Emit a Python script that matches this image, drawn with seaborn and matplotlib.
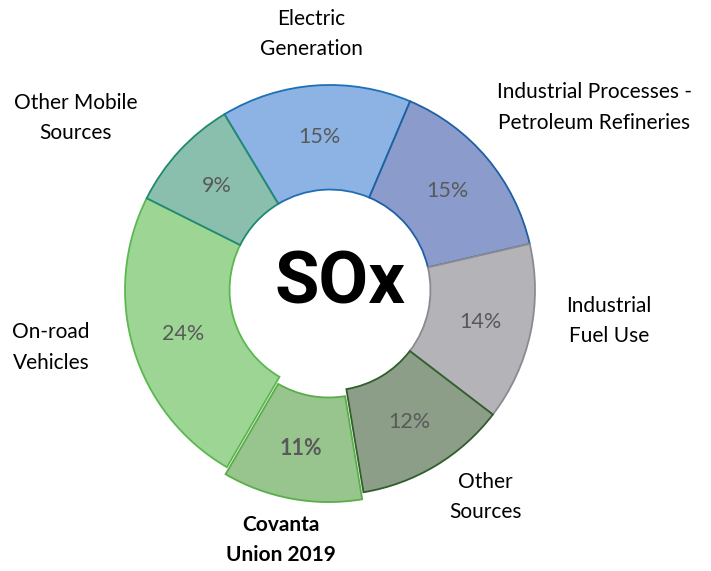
import matplotlib
matplotlib.use("Agg")
import matplotlib.pyplot as plt
import seaborn as sns

# data
sources = ["Electric\nGeneration", "Industrial Processes -\nPetroleum Refineries",
           "Industrial\nFuel Use", "Other\nSources", "Covanta\nUnion 2019",
           "On-road\nVehicles", "Other Mobile\nSources"]
shares = [15, 15, 14, 12, 11, 24, 9]

# styles
fills = ["#8cb3e3", "#8b9bcc", "#b3b3b8", "#8c9d88", "#98c48e", "#9dd595", "#8abfad"]
edges = ["#1f6fb5", "#1f5fa5", "#8a8a90", "#2f5f2a", "#5aae4a", "#5bb84f", "#1f8a70"]
explode = [0, 0, 0, 0, 0.035, 0, 0]
label_xy = [(-0.09, 1.25), (1.29, 0.89), (1.36, -0.15), (0.76, -1.01),
            (-0.24, -1.22), (-1.36, -0.28), (-1.24, 0.84)]
highlight = 4

sns.set_theme(style="white")
plt.rcParams["font.family"] = ["Lato", "DejaVu Sans"]

fig = plt.figure(figsize=(7.11, 5.71), dpi=100)
ax = fig.add_axes([0, 0, 1, 1])

wedges, _, pcts = ax.pie(
    shares, colors=fills, explode=explode, startangle=121, counterclock=False,
    radius=1, autopct="%d%%", pctdistance=0.75,
    wedgeprops=dict(width=0.51, linewidth=1.3),
    textprops=dict(color="#595959", fontsize=15.5),
)
for w, ec in zip(wedges, edges):
    w.set_edgecolor(ec)
pcts[highlight].set_fontweight("bold")

for i, (name, (x, y)) in enumerate(zip(sources, label_xy)):
    ax.text(x, y, name, ha="center", va="center", fontsize=15, color="black",
            linespacing=1.65, fontweight="bold" if i == highlight else "normal")

ax.text(0.05, 0.03, "SOx", ha="center", va="center", fontsize=52, color="black",
        fontweight="bold", family=["Roboto", "DejaVu Sans"])

# place the ring like the reference (centre at 330,290 px, radius 205 px)
cx, cy, R = 330, 290, 205
ax.set_xlim(-cx / R, (711 - cx) / R)
ax.set_ylim(-(571 - cy) / R, cy / R)
ax.set_aspect("equal")
ax.axis("off")
fig.savefig("out.png", dpi=100)
